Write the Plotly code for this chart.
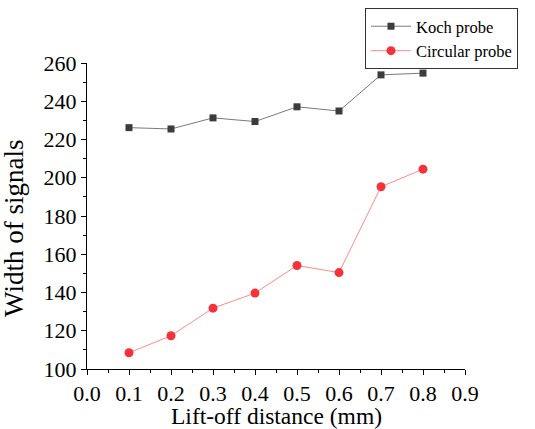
import plotly.graph_objects as go

lift_off = [0.1, 0.2, 0.3, 0.4, 0.5, 0.6, 0.7, 0.8]
koch = [226.2, 225.5, 231.3, 229.4, 237.1, 234.9, 253.8, 254.7]
circular = [108.5, 117.4, 131.8, 139.7, 154.1, 150.4, 195.3, 204.5]
x_ticks = [0.0, 0.1, 0.2, 0.3, 0.4, 0.5, 0.6, 0.7, 0.8, 0.9]
y_ticks = [100, 120, 140, 160, 180, 200, 220, 240, 260]

FONT = "Liberation Serif"

fig = go.Figure()
fig.add_trace(go.Scatter(
    x=lift_off, y=koch, name="Koch probe", mode="lines+markers",
    line=dict(color="#7a7a7a", width=1),
    marker=dict(symbol="square", size=7, color="#3c3c3c"),
))
fig.add_trace(go.Scatter(
    x=lift_off, y=circular, name="Circular probe", mode="lines+markers",
    line=dict(color="#ff8a8a", width=1),
    marker=dict(symbol="circle", size=9, color="#f5323a"),
))

axis_common = dict(
    showgrid=False, zeroline=False, showline=True, linecolor="black", linewidth=1,
    ticks="outside", ticklen=5, tickwidth=1, tickcolor="black",
    tickfont=dict(family=FONT, size=22, color="black"),
    mirror=False, automargin=False, tickangle=0,
)

fig.update_layout(
    width=535, height=429,
    margin=dict(l=87, r=70, t=63, b=60, autoexpand=False),
    paper_bgcolor="white", plot_bgcolor="white",
    font=dict(family=FONT, color="black"),
    showlegend=True,
    legend=dict(
        x=(365 - 87) / 378, y=(369 - 8) / 306, xanchor="left", yanchor="top",
        bordercolor="#333333", borderwidth=1, bgcolor="white",
        font=dict(family=FONT, size=16.5, color="black"),
        tracegroupgap=0, itemwidth=40,
    ),
    xaxis=dict(
        range=[0, 0.9], tickvals=x_ticks, ticktext=[f"{v:.1f}" for v in x_ticks],
        minor=dict(ticks="outside", ticklen=3, tickcolor="black", dtick=0.05, tick0=0),
        **axis_common,
    ),
    yaxis=dict(
        range=[100, 260], tickvals=y_ticks,
        minor=dict(ticks="outside", ticklen=3, tickcolor="black", dtick=10, tick0=100),
        **axis_common,
    ),
    annotations=[
        dict(text="Lift-off distance (mm)", xref="paper", yref="paper",
             x=(276 - 87) / 378, y=(369 - 416) / 306, xanchor="center", yanchor="middle",
             showarrow=False, font=dict(family=FONT, size=23.5, color="black")),
        dict(text="Width of signals", xref="paper", yref="paper",
             x=(14 - 87) / 378, y=(369 - 229) / 306, xanchor="center", yanchor="middle",
             textangle=-90, showarrow=False, font=dict(family=FONT, size=27, color="black")),
    ],
)

fig.write_html("out.html")
